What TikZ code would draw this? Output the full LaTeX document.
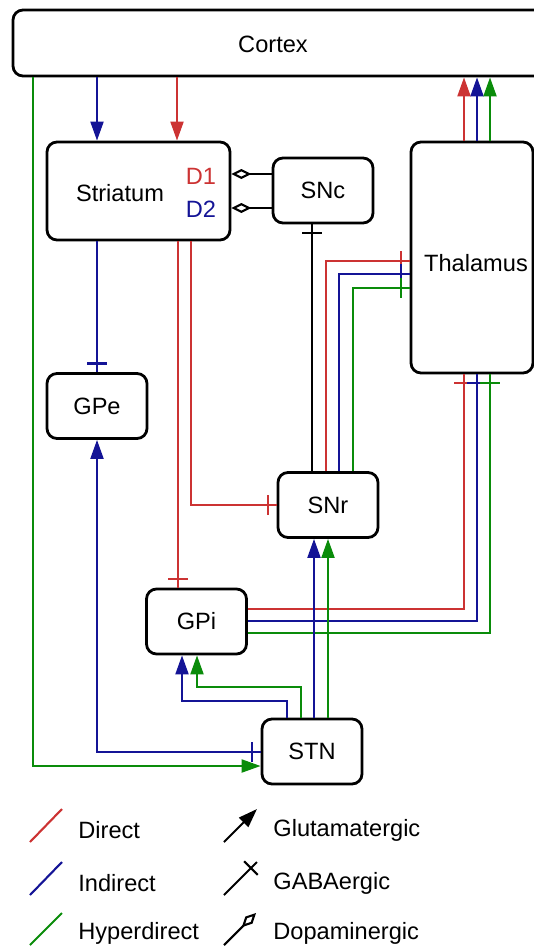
\documentclass[tikz,border=0pt]{standalone}
\usepackage{fontspec}
\setmainfont{Liberation Sans}
\usetikzlibrary{arrows.meta,decorations.markings}
\definecolor{dircol}{RGB}{204,51,51}
\definecolor{indcol}{RGB}{20,20,150}
\definecolor{hypcol}{RGB}{10,140,10}
\tikzset{
  nucleus/.style={draw,rounded corners=5pt,line width=1.4pt,minimum width=50pt,minimum height=32.5pt,inner sep=0pt},
  tract/.style={line width=1.05pt},
  dirpath/.style={tract,dircol},
  indpath/.style={tract,indcol},
  hyppath/.style={tract,hypcol},
  glu/.style={-{Triangle[length=9.5pt,width=6.5pt]}},
  gaba/.style={postaction={decorate,decoration={markings,mark=at position -4.3pt with {\draw[-] (0pt,-4.8pt) -- (0pt,4.8pt);}}}},
  dopa/.style={-{Diamond[open,length=10pt,width=5pt]}},
  legtext/.style={anchor=west,inner sep=0pt},
}

\begin{document}
\begin{tikzpicture}[x=0.5pt,y=-0.5pt,font=\fontsize{11.8}{14}\selectfont]
\useasboundingbox (0,0) rectangle (534,947);
% nuclei
\node[nucleus,minimum width=273.5pt,minimum height=33pt] (ctx) at (286.5,43) {};
\node (ctxlbl) at (273,44) {Cortex};
\node[nucleus,minimum width=91.5pt,minimum height=49pt] (str) at (138.5,191) {};
\node (strlbl) at (120,193) {Striatum};
\node[dircol] (d1) at (201,176) {D1};
\node[indcol] (d2) at (201,209) {D2};
\node[nucleus] (snc) at (323,190.5) {SNc};
\node[nucleus,minimum width=61pt,minimum height=115.5pt] (thal) at (472,257.5) {};
\node (thallbl) at (476,263) {Thalamus};
\node[nucleus] (gpe) at (97,406) {GPe};
\node[nucleus] (snr) at (328,505) {SNr};
\node[nucleus] (gpi) at (196.5,621.5) {GPi};
\node[nucleus] (stn) at (312,751.5) {STN};

% cortical input and thalamic output
\draw[indpath,glu] (97,0 |- ctx.south) -- (97,0 |- str.north);
\draw[dirpath,glu] (177,0 |- ctx.south) -- (177,0 |- str.north);
\draw[dirpath,glu] (464,0 |- thal.north) -- (464,0 |- ctx.south);
\draw[indpath,glu] (477,0 |- thal.north) -- (477,0 |- ctx.south);
\draw[hyppath,glu] (490,0 |- thal.north) -- (490,0 |- ctx.south);
\draw[hyppath,glu] (33,0 |- ctx.south) |- (stn.west |- 0,766);

% striatal output
\draw[indpath,gaba] (97,0 |- str.south) -- (97,0 |- gpe.north);
\draw[dirpath,gaba] (178,0 |- str.south) -- (178,0 |- gpi.north);
\draw[dirpath,gaba] (191,0 |- str.south) |- (snr.west);

% dopamine
\draw[tract,dopa] (snc.west |- 0,174) -- (str.east |- 0,174);
\draw[tract,dopa] (snc.west |- 0,208) -- (str.east |- 0,208);
\draw[tract,gaba] (312,0 |- snr.north) -- (312,0 |- snc.south);

% SNr and GPi to thalamus
\draw[dirpath,gaba] (326,0 |- snr.north) |- (thal.west |- 0,261);
\draw[indpath,gaba] (339,0 |- snr.north) |- (thal.west |- 0,274);
\draw[hyppath,gaba] (353,0 |- snr.north) |- (thal.west |- 0,288);
\draw[dirpath,gaba] (gpi.east |- 0,609) -| (464,0 |- thal.south);
\draw[indpath,gaba] (gpi.east |- 0,621) -| (477,0 |- thal.south);
\draw[hyppath,gaba] (gpi.east |- 0,633) -| (490,0 |- thal.south);

% STN output
\draw[indpath,glu] (287,0 |- stn.north) |- (182,701) -- (182,0 |- gpi.south);
\draw[hyppath,glu] (301,0 |- stn.north) |- (197,687) -- (197,0 |- gpi.south);
\draw[indpath,glu] (314,0 |- stn.north) -- (314,0 |- snr.south);
\draw[hyppath,glu] (328,0 |- stn.north) -- (328,0 |- snr.south);
\draw[indpath,{Triangle[length=9.5pt,width=6.5pt]}-,gaba] (97,0 |- gpe.south) |- (stn.west |- 0,752);

% legend
\node[legtext] (ldir) at (78,830) {Direct};
\node[legtext] (lind) at (78,883) {Indirect};
\node[legtext] (lhyp) at (78,933) {Hyperdirect};
\node[legtext] (lglu) at (273,830) {Glutamatergic};
\node[legtext] (lgaba) at (273,883) {GABAergic};
\node[legtext] (ldopa) at (273,933) {Dopaminergic};
\draw[dirpath] (30,842) -- (62,809);
\draw[indpath] (30,895) -- (62,862);
\draw[hyppath] (30,945) -- (62,913);
\draw[tract,glu] (224,842) -- (257,809);
\draw[tract,gaba] (224,895) -- (257,862);
\draw[tract,dopa] (224,945) -- (256,913);
\end{tikzpicture}
\end{document}
